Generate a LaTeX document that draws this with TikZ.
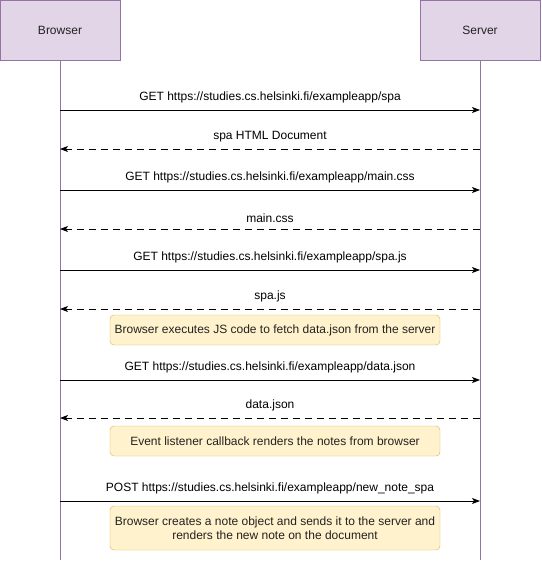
\documentclass[tikz,border=0pt]{standalone}
\usepackage{fontspec}
\setmainfont{Liberation Sans}
\usetikzlibrary{arrows,arrows.meta}
\definecolor{actorfill}{RGB}{225, 213, 231}
\definecolor{actorline}{RGB}{150, 115, 166}
\definecolor{notefill}{RGB}{255, 242, 204}
\definecolor{noteline}{RGB}{214, 182, 86}
\definecolor{textgray}{RGB}{34, 34, 34}

\begin{document}
\begin{tikzpicture}[x=1pt,y=-1pt,
    font=\fontsize{12}{14.5}\selectfont, text=textgray,
    actor/.style={draw=actorline,fill=actorfill,minimum width=120pt,minimum height=60pt,inner sep=0pt},
    note/.style={draw=noteline,fill=notefill,rounded corners=4pt,minimum width=330pt,inner sep=2pt,align=center},
    msg/.style={-{Stealth[length=8pt,width=6pt,inset=2pt]},thick,black},
    reply/.style={msg,dash pattern=on 7pt off 5pt},
    lifeline/.style={actorline,thick}]
  \useasboundingbox (0,0) rectangle (541,562);
  \node[actor] (browser) at (60,30) {Browser};
  \node[actor] (server) at (480,30) {Server};
  \coordinate (bend) at (60,560);
  \coordinate (send) at (480,560);
  \draw[lifeline] (browser.south) -- (bend);
  \draw[lifeline] (server.south) -- (send);
  % message heights
  \foreach \n/\y in {1/110,2/149,3/190,4/229,5/270,6/309,7/380,8/418,9/501}
  {
    \coordinate (b\n) at (60,\y);
    \coordinate (s\n) at (480,\y);
  }
  \path
    (b1) edge[msg] node [above=3pt] {GET https://studies.cs.helsinki.fi/exampleapp/spa} (s1)
    (s2) edge[reply] node [above=3pt] {spa HTML Document} (b2)
    (b3) edge[msg] node [above=3pt] {GET https://studies.cs.helsinki.fi/exampleapp/main.css} (s3)
    (s4) edge[reply] node [above=3pt] {main.css} (b4)
    (b5) edge[msg] node [above=3pt] {GET https://studies.cs.helsinki.fi/exampleapp/spa.js} (s5)
    (s6) edge[reply] node [above=3pt] {spa.js} (b6)
    (b7) edge[msg] node [above=3pt] {GET https://studies.cs.helsinki.fi/exampleapp/data.json} (s7)
    (s8) edge[reply] node [above=3pt] {data.json} (b8)
    (b9) edge[msg] node [above=3pt] {POST https://studies.cs.helsinki.fi/exampleapp/new\_note\_spa} (s9);
  \node[note,minimum height=30pt] (fetch) at (275,330) {Browser executes JS code to fetch data.json from the server};
  \node[note,minimum height=30pt] (render) at (275,441) {Event listener callback renders the notes from browser};
  \node[note,minimum height=44pt] (create) at (275,528) {Browser creates a note object and sends it to the server and\\renders the new note on the document};
\end{tikzpicture}
\end{document}
